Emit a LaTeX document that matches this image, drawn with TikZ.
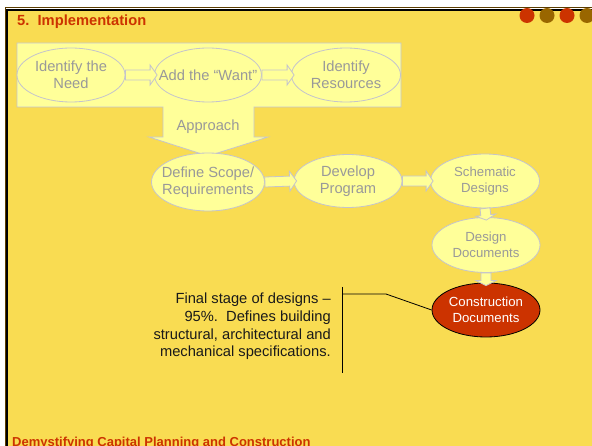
\documentclass[tikz,border=0pt]{standalone}
\usepackage{fontspec}
\setmainfont{Liberation Sans}
\usetikzlibrary{calc,shapes.geometric}

\definecolor{slide_bg}{HTML}{F9DC52}
\definecolor{panel_fill}{HTML}{FFFF99}
\definecolor{stage_line}{HTML}{C4C4CC}
\definecolor{stage_text}{HTML}{999999}
\definecolor{rust}{HTML}{CC3300}
\definecolor{ochre}{HTML}{996600}

% hollow block arrow from #2 to a point 3pt past #3, head length #1
\newcommand{\blockarrow}[3][7]{%
  \coordinate (tip) at ($(#3)!-3pt!(#2)$);
  \coordinate (hb) at ($(tip)!#1pt!(#2)$);
  \draw[block_arrow] ($(#2)!5pt!90:(tip)$) -- ($(hb)!5pt!90:(tip)$)
    -- ($(hb)!10pt!90:(tip)$) -- (tip) -- ($(hb)!10pt!-90:(tip)$)
    -- ($(hb)!5pt!-90:(tip)$) -- ($(#2)!5pt!-90:(tip)$) -- cycle;
}

\begin{document}
\begin{tikzpicture}[
  x=1pt, y=-1pt,
  stage/.style={
    ellipse,
    draw=stage_line,
    line width=0.8pt,
    fill=panel_fill,
    text=stage_text,
    minimum width=108,
    minimum height=54,
    inner xsep=-16pt,
    inner ysep=0pt,
    align=center,
    font=\fontsize{14.7}{17}\selectfont
  },
  stage_small/.style={
    stage,
    font=\fontsize{13.2}{16}\selectfont
  },
  stage_active/.style={
    stage_small,
    draw=black,
    fill=rust,
    text=white
  },
  block_arrow/.style={
    draw=stage_line,
    line width=0.8pt,
    fill=panel_fill
  },
  heading/.style={
    text=rust,
    inner sep=0pt,
    font=\bfseries\fontsize{14.7}{17}\selectfont
  }
]%
\useasboundingbox (0,0) rectangle (592,446);
\clip (0,0) rectangle (592,446);
\fill[white] (0,0) rectangle (592,446);
\fill[slide_bg] (6.5,9.5) rectangle (600,460);
\draw[ochre!60!black, line width=1] (600,8) -- (5,8) -- (5,460);
\draw[black, line width=2] (600,9.8) -- (6.8,9.8) -- (6.8,460);
\foreach \x/\c in {527/rust,547/ochre,567/rust,587/ochre}
  \fill[\c] (\x,15.5) circle (7.5);

\node[heading, anchor=base west] (title) at (17,26) {5.~~Implementation};

% panel with the Approach arrow
\draw[block_arrow] (17,43) -- (401,43) -- (401,107) -- (254,107) -- (254,137)
  -- (268,137) -- (208,156) -- (149,137) -- (163,137) -- (163,107)
  -- (17,107) -- cycle;
\node[text=stage_text, font=\fontsize{14.7}{17}\selectfont] (approach) at (208,127) {Approach};

\node[stage] (need) at (71,75) {Identify the\\Need};
\node[stage, minimum width=107] (want) at (208,75) {Add the “Want”};
\node[stage, minimum width=109] (resources) at (346,75) {Identify\\Resources};
\node[stage, minimum width=113, minimum height=58] (scope) at (208,182) {Define Scope/\\Requirements};
\node[stage, minimum height=53] (develop) at (348,181) {Develop\\Program};
\node[stage_small, minimum width=109] (schematic) at (485,181) {Schematic\\Designs};
\node[stage_small, minimum height=55] (design_docs) at (486,245) {Design\\Documents};
\node[stage_active] (construction) at (486,310) {Construction\\Documents};

\blockarrow{need.east}{want.west}
\blockarrow{want.east}{resources.west}
\blockarrow{scope.east}{develop.west}
\blockarrow{develop.east}{schematic.west}
\blockarrow[5]{schematic.south}{design_docs.north}
\blockarrow[5]{design_docs.south}{construction.north}

% callout
\node[anchor=east, align=right, text={rgb,255:red,26;green,26;blue,26}, inner sep=0pt,
  font=\fontsize{14.7}{17.6}\selectfont] (note) at (331,326.5)
  {Final stage of designs –\\95\%.~~Defines building\\structural, architectural and\\mechanical specifications.};
\coordinate (bar_top) at (342,287);
\coordinate (bar_bottom) at (342,373);
\coordinate (bar_joint) at (342,294);
\coordinate (elbow) at (386,294);
\draw[line width=0.8] (bar_top) -- (bar_bottom);
\draw[line width=0.8] (bar_joint) -- (elbow) -- (construction.west);

\node[heading, anchor=base west, font=\bfseries\fontsize{13}{15}\selectfont] (footer) at (12,446.3)
  {Demystifying Capital Planning and Construction};
\end{tikzpicture}
\end{document}
